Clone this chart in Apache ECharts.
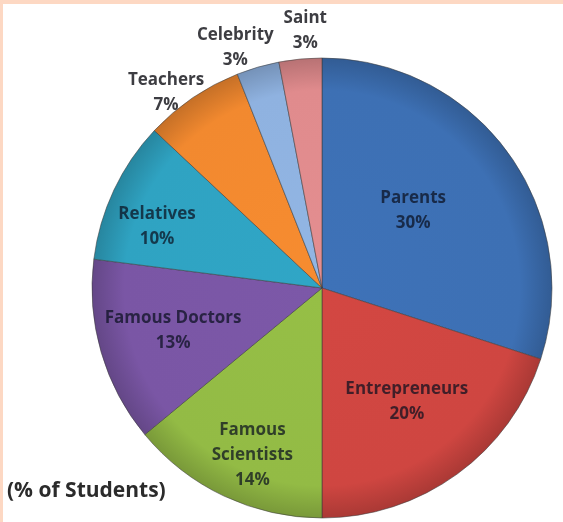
<!DOCTYPE html>
<html>
<head>
<meta charset="utf-8">
<script src="https://cdn.jsdelivr.net/npm/echarts@6/dist/echarts.min.js"></script>
<style>
html,body{margin:0;padding:0;background:#fff;}
#wrap{position:relative;width:560px;height:518px;border-top:4px solid #FDD8C3;border-left:3px solid #FDD8C3;background:#fff;}
#chart{width:560px;height:518px;}
</style>
</head>
<body>
<div id="wrap"><div id="chart"></div></div>
<script>
const categories = ['Parents','Entrepreneurs','Famous Scientists','Famous Doctors','Relatives','Teachers','Celebrity','Saint'];
const values = [30, 20, 14, 13, 10, 7, 3, 3];
const labelTexts = ['Parents\n30%','Entrepreneurs\n20%','Famous\nScientists\n14%','Famous Doctors\n13%','Relatives\n10%','Teachers\n7%','Celebrity\n3%','Saint\n3%'];

// styles (kept separate from data)
const colors = ['#3D70B4','#CF4641','#93BB45','#7A56A5','#2FA3C2','#F2892F','#8FB2E0','#E08B8D'];
const labelRadiusFrac = [0.52, 0.57, 0.79, 0.67, 0.77, 1.10, 1.12, 1.13];
const labelNudge = [[-8,-5],[6,5],[9,0],[2,-1],[-2,15],[-12,16],[-14,10],[8,4]];
const CX = 319, CY = 284, R = 230;

function shade(hex, f){
  const n = parseInt(hex.slice(1),16);
  let r=(n>>16)&255,g=(n>>8)&255,b=n&255;
  r=Math.min(255,Math.round(r*f));g=Math.min(255,Math.round(g*f));b=Math.min(255,Math.round(b*f));
  return 'rgb('+r+','+g+','+b+')';
}

const total = values.reduce((a,b)=>a+b,0);
let acc = 0;
const data = categories.map((c,i)=>{
  const mid = (acc + values[i]/2)/total*2*Math.PI;
  acc += values[i];
  const d = (labelRadiusFrac[i]-0.5)*R;
  const outside = labelRadiusFrac[i] > 1;
  return {
    name: c,
    value: values[i],
    itemStyle: {
      color: {type:'radial', x:CX, y:CY, r:R, global:true,
        colorStops:[{offset:0,color:shade(colors[i],1.02)},{offset:0.86,color:colors[i]},{offset:1,color:shade(colors[i],0.82)}]}
    },
    label: {
      formatter: labelTexts[i],
      offset: [d*Math.sin(mid)+labelNudge[i][0], -d*Math.cos(mid)+labelNudge[i][1]],
      color: outside ? 'rgba(45,45,50,0.92)' : 'rgba(10,15,30,0.72)'
    }
  };
});

const chart = echarts.init(document.getElementById('chart'));
chart.setOption({
  animation:false,
  backgroundColor:'#fff',
  graphic:[{type:'text', left:4, top:477, style:{text:'(% of Students)', font:'bold 21px "Open Sans", sans-serif', fill:'#2b2b2b'}}],
  series:[{
    type:'pie',
    center:[CX, CY],
    radius:[0, R],
    startAngle:90,
    clockwise:true,
    avoidLabelOverlap:false,
    labelLayout:{hideOverlap:false},
    itemStyle:{borderColor:'rgba(60,60,60,0.55)', borderWidth:1},
    label:{show:true, position:'inside', fontFamily:'"Open Sans", sans-serif', fontWeight:'bold', fontSize:17, lineHeight:25, align:'center'},
    labelLine:{show:false},
    emphasis:{disabled:true},
    data:data
  }]
});
</script>
</body>
</html>
